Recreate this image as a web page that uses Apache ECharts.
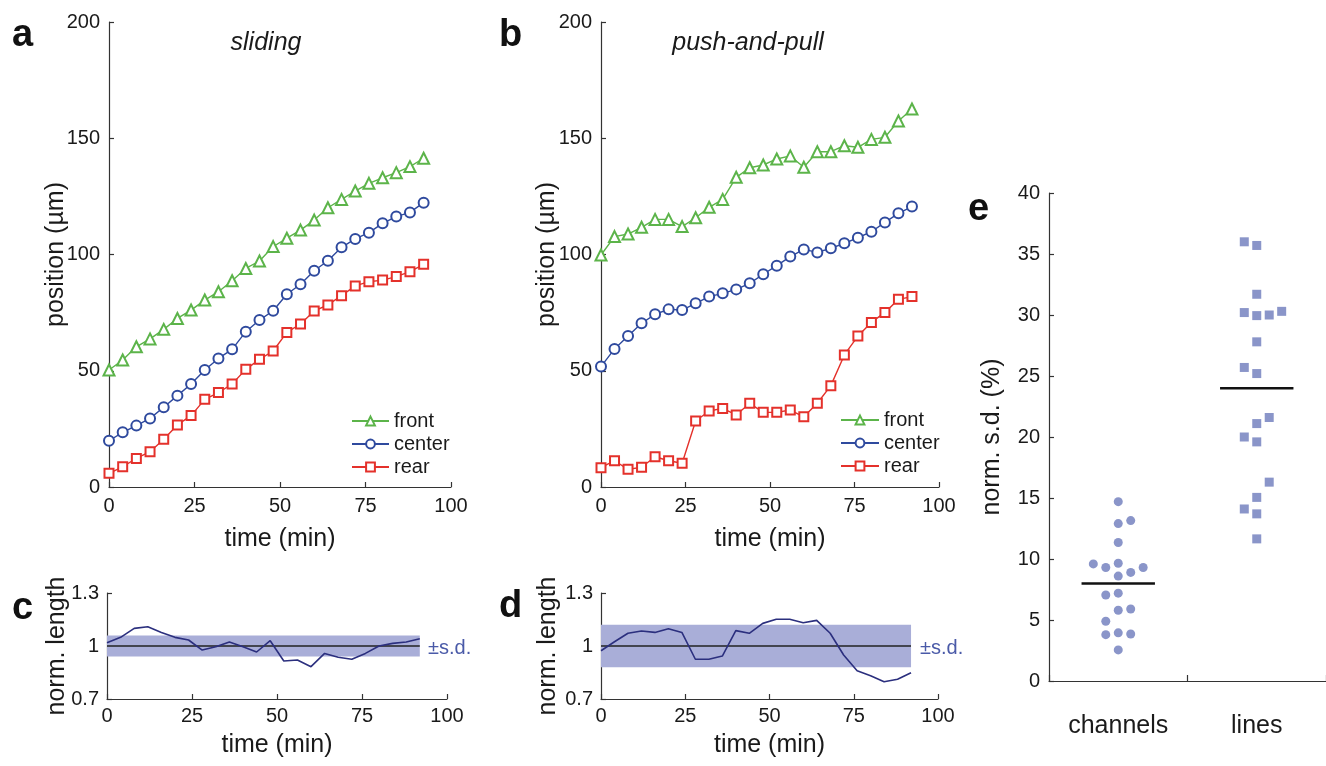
<!DOCTYPE html>
<html>
<head>
<meta charset="utf-8">
<script src="https://cdn.jsdelivr.net/npm/echarts/dist/echarts.min.js"></script>
<style>
html,body{margin:0;padding:0;background:#fff;}
#chart{width:1326px;height:766px;}
</style>
</head>
<body>
<div id="chart"></div>
<script>
// ---- data ----
const times = [0,4,8,12,16,20,24,28,32,36,40,44,48,52,56,60,64,68,72,76,80,84,88,92];
const frontA = [50.3,54.6,60.3,63.7,67.8,72.5,76.1,80.4,84.0,88.7,94.0,97.2,103.4,107.0,110.5,114.8,120.1,123.7,127.3,130.6,133.0,135.2,137.8,141.4];
const centerA = [19.9,23.5,26.4,29.5,34.3,39.3,44.3,50.3,55.3,59.2,66.8,71.8,75.8,82.9,87.2,93.0,97.3,103.1,106.7,109.4,113.4,116.3,118.1,122.3];
const rearA = [5.9,8.7,12.3,15.2,20.5,26.7,30.7,37.7,40.6,44.3,50.6,54.9,58.5,66.5,70.1,75.7,78.3,82.3,86.5,88.3,89.0,90.5,92.6,95.8];
const frontB = [99.8,107.7,108.8,111.7,115.1,115.1,112.0,115.8,120.3,123.7,133.2,137.3,138.5,141.1,142.4,137.5,144.2,144.2,146.8,146.1,149.5,150.4,157.4,162.6];
const centerB = [51.8,59.4,64.9,70.4,74.3,76.4,76.1,79.0,81.9,83.3,85.0,87.6,91.5,95.2,99.1,102.2,100.9,102.7,104.8,107.2,109.8,113.8,117.7,120.6];
const rearB = [8.3,11.3,7.6,8.5,13.0,11.3,10.2,28.4,32.7,33.8,31.0,36.0,32.1,32.1,33.1,30.2,36.0,43.6,56.8,64.9,70.8,75.1,80.7,81.9];
const lenC = [1.019,1.049,1.100,1.109,1.077,1.049,1.034,0.977,0.996,1.023,0.996,0.966,1.030,0.915,0.921,0.883,0.958,0.936,0.925,0.958,1.000,1.015,1.023,1.041];
const lenD = [0.973,1.024,1.072,1.085,1.077,1.098,1.077,0.925,0.925,0.943,1.087,1.072,1.128,1.151,1.151,1.132,1.145,1.072,0.949,0.860,0.832,0.798,0.812,0.849];
const sdC = 0.06;
const sdD = 0.12;
const channelsX = [0.5,0.5,0.59,0.5,0.32,0.41,0.5,0.59,0.68,0.5,0.41,0.5,0.5,0.59,0.41,0.41,0.5,0.59,0.5];
const channelsY = [14.7,12.9,13.15,11.35,9.6,9.3,9.65,8.9,9.3,8.6,7.05,7.2,5.8,5.9,4.9,3.8,3.95,3.85,2.55];
const linesX = [1.41,1.5,1.5,1.41,1.5,1.59,1.68,1.5,1.41,1.5,1.59,1.5,1.41,1.5,1.59,1.5,1.41,1.5,1.5];
const linesY = [36.0,35.7,31.7,30.2,29.95,30.0,30.3,27.8,25.7,25.2,21.6,21.1,20.0,19.6,16.3,15.05,14.1,13.7,11.65];
const groupsE = ['channels','lines'];
const meanE = [8.0, 24.0];
const seriesNames = ['front','center','rear'];
const posTicks = [0,50,100,150,200];
const lenTicks = [0.7,1,1.3];
const sdTicks = [0,5,10,15,20,25,30,35,40];

// ---- styles ----
const FONT = "'Liberation Sans', Arial, Helvetica, sans-serif";
const TXT = '#1a1a1a';
const GREEN = '#5cb44a', BLUE = '#2f4a9e', RED = '#e4312b';
const NAVY = '#2b2f7e', BAND = '#a9aed8', DOT = '#8a95c9', SDTXT = '#4a5aa8';
const axisLine = {show:true, lineStyle:{color:'#333', width:1.2}};
const axisTick = {show:true, inside:true, length:5, lineStyle:{color:'#333', width:1.2}};
const lbl = (m)=>({fontSize:20, color:TXT, fontFamily:FONT, margin:m});
const nameStyle = {fontSize:25, color:TXT, fontFamily:FONT};

function pairs(xs, ys){ return xs.map((x,i)=>[x, ys[i]]); }

function posLine(name, ys, color, symbol, size, xi){
  return {
    type:'line', name:name, xAxisIndex:xi, yAxisIndex:xi,
    data: pairs(times, ys), symbol:symbol, symbolSize:size,
    lineStyle:{color:color, width:1.4},
    itemStyle:{color:color, borderColor:color, borderWidth:1.3},
    z:3
  };
}
function lenSeries(ys, sd, xi){
  return [{
    type:'line', name:'len'+xi, xAxisIndex:xi, yAxisIndex:xi,
    data: pairs(times, ys), symbol:'none',
    lineStyle:{color:NAVY, width:1.6}, z:4,
    markArea:{silent:true, itemStyle:{color:BAND, opacity:1},
      data:[[{xAxis:times[0], yAxis:1-sd},{xAxis:times[times.length-1], yAxis:1+sd}]]}
  },{
    type:'line', name:'one'+xi, xAxisIndex:xi, yAxisIndex:xi,
    data:[[times[0],1],[times[times.length-1],1]], symbol:'none',
    lineStyle:{color:'#222', width:1.5}, z:3
  }];
}

const xTime = (gi, m)=>({type:'value', gridIndex:gi, min:0, max:100, interval:25,
  axisLine:axisLine, axisTick:axisTick, splitLine:{show:false}, axisLabel:lbl(m),
  name:'time (min)', nameLocation:'middle', nameGap: gi<2?40:34, nameMoveOverlap:false, nameTextStyle:nameStyle});

const yName = (name, gap)=>({name:name, nameLocation:'middle', nameGap:gap, nameRotate:90, nameMoveOverlap:false, nameTextStyle:nameStyle});

const option = {
  animation:false,
  backgroundColor:'#fff',
  textStyle:{fontFamily:FONT},
  grid:[
    {left:109, top:22, width:342, height:465},
    {left:601, top:22, width:338, height:465},
    {left:107, top:593, width:340, height:106},
    {left:601, top:593, width:337, height:106},
    {left:1049, top:193, width:277, height:488}
  ],
  xAxis:[
    xTime(0,9), xTime(1,9), xTime(2,7), xTime(3,7),
    {type:'category', gridIndex:4, data:groupsE, boundaryGap:true,
     axisLine:axisLine, axisTick:{show:true, inside:true, length:6, lineStyle:{color:'#333', width:1.2}},
     axisLabel:{fontSize:25, color:TXT, fontFamily:FONT, margin:33}, splitLine:{show:false}},
    {type:'value', gridIndex:4, min:0, max:2, show:false}
  ],
  yAxis:[
    Object.assign({type:'value', gridIndex:0, min:posTicks[0], max:posTicks[posTicks.length-1], interval:50,
     axisLine:axisLine, axisTick:axisTick, splitLine:{show:false}, axisLabel:lbl(9)}, yName('position (µm)', 40)),
    Object.assign({type:'value', gridIndex:1, min:posTicks[0], max:posTicks[posTicks.length-1], interval:50,
     axisLine:axisLine, axisTick:axisTick, splitLine:{show:false}, axisLabel:lbl(9)}, yName('position (µm)', 41)),
    Object.assign({type:'value', gridIndex:2, min:lenTicks[0], max:lenTicks[2], interval:0.3,
     axisLine:axisLine, axisTick:axisTick, splitLine:{show:false}, axisLabel:lbl(8)}, yName('norm. length', 37)),
    Object.assign({type:'value', gridIndex:3, min:lenTicks[0], max:lenTicks[2], interval:0.3,
     axisLine:axisLine, axisTick:axisTick, splitLine:{show:false}, axisLabel:lbl(8)}, yName('norm. length', 40)),
    Object.assign({type:'value', gridIndex:4, min:sdTicks[0], max:sdTicks[sdTicks.length-1], interval:5,
     axisLine:axisLine, axisTick:axisTick, splitLine:{show:false}, axisLabel:lbl(9)}, yName('norm. s.d. (%)', 44))
  ],
  legend:[
    {data:seriesNames, orient:'vertical', left:346, top:406, itemWidth:37, itemHeight:11, itemGap:3,
     textStyle:{fontSize:20, color:TXT, fontFamily:FONT}, selectedMode:false},
    {data:seriesNames, orient:'vertical', left:835, top:405, itemWidth:38, itemHeight:11, itemGap:3,
     textStyle:{fontSize:20, color:TXT, fontFamily:FONT}, selectedMode:false}
  ],
  series:[
    posLine('front', frontA, GREEN, 'emptyTriangle', 11, 0),
    posLine('center', centerA, BLUE, 'emptyCircle', 10, 0),
    posLine('rear', rearA, RED, 'emptyRect', 9, 0),
    posLine('front', frontB, GREEN, 'emptyTriangle', 11, 1),
    posLine('center', centerB, BLUE, 'emptyCircle', 10, 1),
    posLine('rear', rearB, RED, 'emptyRect', 9, 1),
    ...lenSeries(lenC, sdC, 2),
    ...lenSeries(lenD, sdD, 3),
    {type:'scatter', name:'channels', xAxisIndex:5, yAxisIndex:4, data:pairs(channelsX, channelsY),
     symbol:'circle', symbolSize:9, itemStyle:{color:DOT, opacity:1}},
    {type:'scatter', name:'lines', xAxisIndex:5, yAxisIndex:4, data:pairs(linesX, linesY),
     symbol:'rect', symbolSize:9, itemStyle:{color:DOT, opacity:1}},
    {type:'line', name:'meanC', xAxisIndex:5, yAxisIndex:4, data:[[0.235,meanE[0]],[0.765,meanE[0]]],
     symbol:'none', lineStyle:{color:'#111', width:2.5}},
    {type:'line', name:'meanL', xAxisIndex:5, yAxisIndex:4, data:[[1.235,meanE[1]],[1.765,meanE[1]]],
     symbol:'none', lineStyle:{color:'#111', width:2.5}}
  ],
  graphic:[
    {type:'text', x:12, y:36, style:{text:'a', font:"bold 38px "+FONT, fill:'#111', verticalAlign:'middle', textVerticalAlign:'middle'}},
    {type:'text', x:499, y:36, style:{text:'b', font:"bold 38px "+FONT, fill:'#111', verticalAlign:'middle', textVerticalAlign:'middle'}},
    {type:'text', x:12, y:609, style:{text:'c', font:"bold 38px "+FONT, fill:'#111', verticalAlign:'middle', textVerticalAlign:'middle'}},
    {type:'text', x:499, y:607, style:{text:'d', font:"bold 38px "+FONT, fill:'#111', verticalAlign:'middle', textVerticalAlign:'middle'}},
    {type:'text', x:968, y:210, style:{text:'e', font:"bold 38px "+FONT, fill:'#111', verticalAlign:'middle', textVerticalAlign:'middle'}},
    {type:'text', x:266, y:43, style:{text:'sliding', font:"italic 25px "+FONT, fill:TXT, align:'center', textAlign:'center', verticalAlign:'middle', textVerticalAlign:'middle'}},
    {type:'text', x:748, y:43, style:{text:'push-and-pull', font:"italic 25px "+FONT, fill:TXT, align:'center', textAlign:'center', verticalAlign:'middle', textVerticalAlign:'middle'}},
    {type:'text', x:428, y:648, style:{text:'±s.d.', font:"20px "+FONT, fill:SDTXT, verticalAlign:'middle', textVerticalAlign:'middle'}},
    {type:'text', x:920, y:648, style:{text:'±s.d.', font:"20px "+FONT, fill:SDTXT, verticalAlign:'middle', textVerticalAlign:'middle'}}
  ]
};

const chart = echarts.init(document.getElementById('chart'), null, {renderer:'canvas'});
chart.setOption(option);
</script>
</body>
</html>
